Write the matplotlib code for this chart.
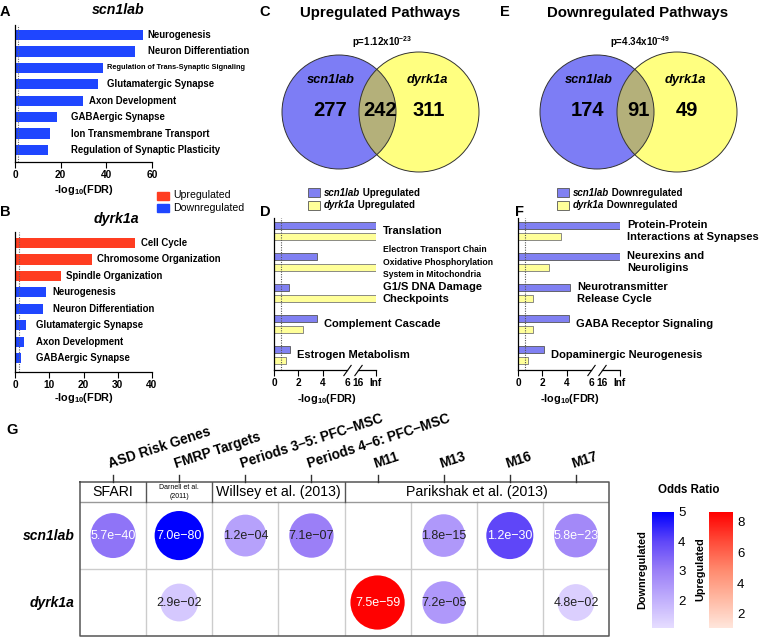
import numpy as np
import matplotlib
matplotlib.use('Agg')
import matplotlib.pyplot as plt
from matplotlib.patches import Circle, Rectangle
from matplotlib.colors import LinearSegmentedColormap, Normalize
import matplotlib.cm as cm

plt.rcParams['font.family'] = ['Liberation Sans', 'DejaVu Sans']
plt.rcParams['mathtext.fontset'] = 'custom'
plt.rcParams['mathtext.rm'] = 'Liberation Sans:bold'
plt.rcParams['mathtext.bf'] = 'Liberation Sans:bold'
plt.rcParams['mathtext.it'] = 'Liberation Sans:italic:bold'

# ---------------- data ----------------
# A: scn1lab GO terms (downregulated)
a_terms = ['Neurogenesis', 'Neuron Differentiation',
           'Regulation of Trans-Synaptic Signaling', 'Glutamatergic Synapse',
           'Axon Development', 'GABAergic Synapse',
           'Ion Transmembrane Transport', 'Regulation of Synaptic Plasticity']
a_fdr = [56.0, 52.5, 38.4, 36.2, 29.6, 18.2, 15.3, 14.3]
a_dir = ['down'] * 8

# B: dyrk1a GO terms
b_terms = ['Cell Cycle', 'Chromosome Organization', 'Spindle Organization',
           'Neurogenesis', 'Neuron Differentiation', 'Glutamatergic Synapse',
           'Axon Development', 'GABAergic Synapse']
b_fdr = [35.0, 22.4, 13.5, 9.0, 8.1, 3.2, 2.6, 1.7]
b_dir = ['up', 'up', 'up', 'down', 'down', 'down', 'down', 'down']

# C / E: venn counts (scn1lab only, shared, dyrk1a only)
up_counts = [277, 242, 311]
up_p = ('1.12', '-23')
down_counts = [174, 91, 49]
down_p = ('4.34', '-49')

# D / F: pathway -log10(FDR), inf = off the scale
d_terms = ['Translation',
           'Electron Transport Chain\nOxidative Phosphorylation\nSystem in Mitochondria',
           'G1/S DNA Damage\nCheckpoints', 'Complement Cascade', 'Estrogen Metabolism']
d_scn = [np.inf, 3.5, 1.2, 3.5, 1.3]
d_dyrk = [np.inf, np.inf, np.inf, 2.4, 1.0]

f_terms = ['Protein-Protein\nInteractions at Synapses', 'Neurexins and\nNeuroligins',
           'Neurotransmitter\nRelease Cycle', 'GABA Receptor Signaling',
           'Dopaminergic Neurogenesis']
f_scn = [np.inf, np.inf, 4.3, 4.2, 2.1]
f_dyrk = [3.5, 2.5, 1.2, 1.2, 0.8]

# G: gene set enrichment
g_cols = ['ASD Risk Genes', 'FMRP Targets', 'Periods 3\u20135: PFC\u2013MSC',
          'Periods 4\u20136: PFC\u2013MSC', 'M11', 'M13', 'M16', 'M17']
g_groups = [('SFARI', 0, 1), ('Darnell et al.\n(2011)', 1, 2),
            ('Willsey et al. (2013)', 2, 4), ('Parikshak et al. (2013)', 4, 8)]
g_rows = ['scn1lab', 'dyrk1a']
g_p = [[5.7e-40, 7.0e-80, 1.2e-04, 7.1e-07, np.nan, 1.8e-15, 1.2e-30, 5.8e-23],
       [np.nan, 2.9e-02, np.nan, np.nan, 7.5e-59, 7.2e-05, np.nan, 4.8e-02]]
g_or = [[3.2, 5.0, 2.3, 3.0, np.nan, 2.5, 4.0, 2.8],
        [np.nan, 1.5, np.nan, np.nan, 8.6, 2.5, np.nan, 1.35]]
g_dir = [['down'] * 8,
         ['', 'down', '', '', 'up', 'down', '', 'down']]

# ---------------- layout / styling ----------------
W, H = 761, 637
BLUE = '#1f46ff'
RED = '#ff3d21'
PURPLE = '#8080f2'
YELLOW = '#ffff99'
VENN_L = '#7d7df5'
VENN_R = '#ffff80'
VENN_O = '#b4b07a'

# where the bar labels start (data units), and their sizes
a_label_x = [58.1, 58.1, 40.3, 40.3, 32.4, 24.4, 24.4, 24.4]
a_label_fs = [6.9, 6.9, 5.3, 6.9, 6.9, 6.9, 6.9, 6.9]
b_label_x = [36.8, 23.9, 14.8, 11.0, 11.0, 6.1, 6.1, 6.1]
b_label_fs = [6.9] * 8
d_label_fs = [8, 6.2, 8, 8, 8]
f_label_fs = [8, 8, 8, 8, 8]

down_cmap = LinearSegmentedColormap.from_list(
    'down', ['#e6ddff', '#c0aefc', '#9a7ef7', '#5f46f8', '#0000ff'])
up_cmap = LinearSegmentedColormap.from_list(
    'up', ['#ffe6dc', '#ffb9a3', '#ff8a6e', '#ff4a38', '#ff0000'])
down_norm = Normalize(1.05, 5.0)
up_norm = Normalize(1.07, 8.65)

fig = plt.figure(figsize=(W / 100, H / 100), dpi=100)


def px_axes(l, t, r, b, **kw):
    return fig.add_axes([l / W, 1 - b / H, (r - l) / W, (b - t) / H], **kw)


ov = fig.add_axes([0, 0, 1, 1], zorder=10)
ov.set_xlim(0, W)
ov.set_ylim(H, 0)
ov.axis('off')


def mixed_text(x, y, parts, size):
    prev = ov.text(x, y, parts[0][0], fontsize=size, fontweight='bold',
                   fontstyle=parts[0][1], va='center', ha='left')
    for s, st in parts[1:]:
        prev = ov.annotate(s, xy=(1, 0), xycoords=prev, va='bottom', ha='left',
                           fontsize=size, fontweight='bold', fontstyle=st)


def go_panel(ax, terms, vals, dirs, lab_x, lab_fs, xmax, ticks, ylim):
    y = np.arange(len(terms))
    cols = [RED if d == 'up' else BLUE for d in dirs]
    ax.barh(y, vals, height=0.62, color=cols)
    ax.axvline(1.3, color='#666666', ls=(0, (1, 1.2)), lw=0.8)
    for yi, lx, t, fs in zip(y, lab_x, terms, lab_fs):
        ax.text(lx, yi, t, va='center', ha='left', fontsize=fs,
                fontweight='bold', clip_on=False)
    ax.set_xlim(0, xmax)
    ax.set_ylim(*ylim)
    ax.set_xticks(ticks)
    ax.set_xticklabels([str(t) for t in ticks], fontsize=7.3, fontweight='bold')
    ax.set_yticks([])
    ax.tick_params(axis='x', length=4, width=0.8, pad=2)
    for s in ['top', 'right']:
        ax.spines[s].set_visible(False)
    for s in ['left', 'bottom']:
        ax.spines[s].set_linewidth(0.9)
    ax.patch.set_alpha(0)


# ---------------- A & B ----------------
axA = px_axes(15, 25, 152, 162)
go_panel(axA, a_terms, a_fdr, a_dir, a_label_x, a_label_fs, 60,
         [0, 20, 40, 60], (7.73, -0.61))
axB = px_axes(15, 232, 152, 372)
go_panel(axB, b_terms, b_fdr, b_dir, b_label_x, b_label_fs, 40,
         [0, 10, 20, 30, 40], (7.85, -0.67))

XLAB = r'-log$_{\mathbf{10}}$(FDR)'
ov.text(84, 190, XLAB, fontsize=7.8, fontweight='bold', ha='center', va='center')
ov.text(84, 398, XLAB, fontsize=7.8, fontweight='bold', ha='center', va='center')
ov.text(118, 10, 'scn1lab', fontsize=10.2, fontweight='bold', fontstyle='italic',
        ha='center', va='center')
ov.text(116, 219, 'dyrk1a', fontsize=10.2, fontweight='bold', fontstyle='italic',
        ha='center', va='center')
for i, (lab, col) in enumerate([('Upregulated', RED), ('Downregulated', BLUE)]):
    yy = 195.5 + i * 12.5
    ov.add_patch(Rectangle((157, yy - 4), 12, 8, color=col))
    ov.text(173, yy, lab, fontsize=7.6, va='center', ha='left')


# ---------------- C & E venn ----------------
def venn(cx, counts, pstr, title):
    cl, cr, cy = cx - 41, cx + 39, 112
    left = Circle((cl, cy), 57, fc=VENN_L, ec='none')
    right = Circle((cr, cy), 60, fc=VENN_R, ec='none')
    ov.add_patch(left)
    ov.add_patch(right)
    over = Circle((cr, cy), 60, fc=VENN_O, ec='none')
    ov.add_patch(over)
    over.set_clip_path(left)
    ov.add_patch(Circle((cl, cy), 57, fc='none', ec='#333333', lw=0.7))
    ov.add_patch(Circle((cr, cy), 60, fc='none', ec='#333333', lw=0.7))
    for x, n in zip([cl - 9, (cl + cr) / 2 + 1, cr + 10], counts):
        ov.text(x, cy - 2, str(n), fontsize=14.5, fontweight='bold', ha='center',
                va='center')
    ov.text(cl - 8, 80, 'scn1lab', fontsize=9.3, fontweight='bold',
            fontstyle='italic', ha='center', va='center')
    ov.text(cr + 8, 80, 'dyrk1a', fontsize=9.3, fontweight='bold',
            fontstyle='italic', ha='center', va='center')
    ov.text(cx + 2, 42, r'p=%sx10$^{%s}$' % pstr, fontsize=7, fontweight='bold',
            ha='center', va='center')
    ov.text(cx, 13, title, fontsize=10.8, fontweight='bold', ha='center',
            va='center')


venn(380, up_counts, up_p, 'Upregulated Pathways')
venn(638, down_counts, down_p, 'Downregulated Pathways')

# ---------------- D & F ----------------
BRK_V = [0, 6, 16, 30]
BRK_P = [0, 6, 6.9, 8.36]
INF_V = BRK_V[-1]


def brk_fwd(x):
    return np.interp(x, BRK_V, BRK_P)


def brk_inv(p):
    return np.interp(p, BRK_P, BRK_V)


def pathway_panel(ax, terms, scn, dyrk, fsizes):
    ax.set_xscale('function', functions=(brk_fwd, brk_inv))
    y = np.arange(len(terms))
    s = np.where(np.isinf(scn), INF_V, scn)
    d = np.where(np.isinf(dyrk), INF_V, dyrk)
    ax.barh(y - 0.18, s, height=0.24, color=PURPLE, edgecolor='#555555', lw=0.6)
    ax.barh(y + 0.18, d, height=0.24, color=YELLOW, edgecolor='#777777', lw=0.6)
    ax.axvline(0.6, color='#555555', ls=(0, (1, 1.2)), lw=0.8)
    for yi, t, m, fs in zip(y, terms, np.maximum(s, d), fsizes):
        ax.annotate(t, xy=(m, yi), xytext=(5, 0), textcoords='offset points',
                    va='center', ha='left', fontsize=fs, fontweight='bold',
                    linespacing=1.3 if fs > 7 else 1.45, annotation_clip=False)
    ax.set_xlim(0, INF_V)
    ax.set_ylim(len(terms) - 0.52, -0.42)
    ax.set_yticks([])
    ax.set_xticks([0, 2, 4, 6, 16, INF_V])
    ax.set_xticklabels(['0', '2', '4', '6', '16', 'Inf'], fontsize=7.3,
                       fontweight='bold')
    ax.tick_params(axis='x', length=4, width=0.8, pad=2)
    for k in (3, 4):
        ax.xaxis.get_major_ticks()[k].tick1line.set_visible(False)
    for sp in ['top', 'right', 'bottom']:
        ax.spines[sp].set_visible(False)
    ax.spines['left'].set_linewidth(0.9)
    tr = ax.get_xaxis_transform()
    ax.plot([0, 6], [0, 0], color='k', lw=0.9, transform=tr, clip_on=False)
    ax.plot([16, INF_V], [0, 0], color='k', lw=0.9, transform=tr, clip_on=False)
    ax.plot([6, 16], [0, 0], transform=tr, ls='none', marker=[(-1, -1.4), (1, 1.4)],
            ms=8, mew=0.8, color='k', clip_on=False)
    ax.patch.set_alpha(0)


axD = px_axes(274, 218, 376, 370)
pathway_panel(axD, d_terms, d_scn, d_dyrk, d_label_fs)
axF = px_axes(518, 218, 620, 370)
pathway_panel(axF, f_terms, f_scn, f_dyrk, f_label_fs)
ov.text(327, 399, XLAB, fontsize=7.8, fontweight='bold', ha='center', va='center')
ov.text(570, 399, XLAB, fontsize=7.8, fontweight='bold', ha='center', va='center')

for x0, word in [(308, 'Upregulated'), (557, 'Downregulated')]:
    for i, (gene, col) in enumerate([('scn1lab', PURPLE), ('dyrk1a', YELLOW)]):
        yy = 192.5 + i * 13
        ov.add_patch(Rectangle((x0, yy - 4.5), 12, 9, fc=col, ec='#555555', lw=0.6))
        mixed_text(x0 + 16, yy, [(gene, 'italic'), (' ' + word, 'normal')], 7)

# ---------------- G ----------------
axG = px_axes(80, 482, 609, 636)
axG.set_xlim(0, 8)
axG.set_ylim(2, -0.3)
axG.axis('off')
INNER, OUTER = '#cccccc', '#555555'
for x in range(1, 8):
    axG.plot([x, x], [0, 2], color=INNER, lw=1)
axG.plot([0, 8], [1, 1], color=INNER, lw=1)
axG.plot([0, 8], [0, 0], color='#999999', lw=1)
for x in [1, 2, 4]:
    axG.plot([x, x], [-0.3, 0], color=OUTER, lw=1)
axG.plot([0, 8, 8, 0, 0], [-0.3, -0.3, 2, 2, -0.3], color=OUTER, lw=1.1,
         clip_on=False)
for i, name in enumerate(g_cols):
    axG.plot([i + 0.5, i + 0.5], [-0.3, -0.4], color='#333333', lw=1, clip_on=False)
    axG.text(i + 0.5 - 0.03, -0.46, name, rotation=18, rotation_mode='anchor',
             ha='left', va='bottom', fontsize=9.8, fontweight='bold')
for name, a, b in g_groups:
    small = '\n' in name
    axG.text((a + b) / 2, -0.15, name, ha='center', va='center',
             fontsize=5 if small else 10.2, linespacing=1.4)
for r, gene in enumerate(g_rows):
    axG.text(-0.08, r + 0.5, gene, ha='right', va='center', fontsize=10,
             fontweight='bold', fontstyle='italic')
    for c in range(len(g_cols)):
        p, o, dr = g_p[r][c], g_or[r][c], g_dir[r][c]
        if np.isnan(p):
            continue
        col = up_cmap(up_norm(o)) if dr == 'up' else down_cmap(down_norm(o))
        rad = 17 + 4.7 * np.log(o)
        axG.scatter([c + 0.5], [r + 0.5], s=(2 * rad * 0.72) ** 2, color=col,
                    edgecolors='none', zorder=3)
        axG.text(c + 0.5, r + 0.5, ('%.1e' % p).replace('-', '\u2212'),
                 ha='center', va='center', fontsize=9, zorder=4,
                 color='white' if p < 1e-20 else '#222222')

caxD = px_axes(652, 512, 674, 628)
caxU = px_axes(709, 512, 733, 628)
for cax, cmap, norm, ticks in [(caxD, down_cmap, down_norm, [2, 3, 4, 5]),
                               (caxU, up_cmap, up_norm, [2, 4, 6, 8])]:
    cb = fig.colorbar(cm.ScalarMappable(norm=norm, cmap=cmap), cax=cax)
    cb.outline.set_visible(False)
    cb.set_ticks(ticks)
    cax.tick_params(length=0, labelsize=9.5, pad=3)
ov.text(689, 490, 'Odds Ratio', fontsize=8.3, fontweight='bold', ha='center',
        va='center')
ov.text(642, 570, 'Downregulated', fontsize=7.8, fontweight='bold', rotation=90,
        ha='center', va='center')
ov.text(700, 569, 'Upregulated', fontsize=7.8, fontweight='bold', rotation=90,
        ha='center', va='center')

# panel letters
for lab, x, y in [('A', 5, 12), ('B', 5, 212), ('C', 265, 12), ('D', 265, 212),
                  ('E', 505, 12), ('F', 520, 212), ('G', 12, 430)]:
    ov.text(x, y, lab, fontsize=10.5, fontweight='bold', ha='center', va='center')

fig.savefig('out.png', dpi=100)
